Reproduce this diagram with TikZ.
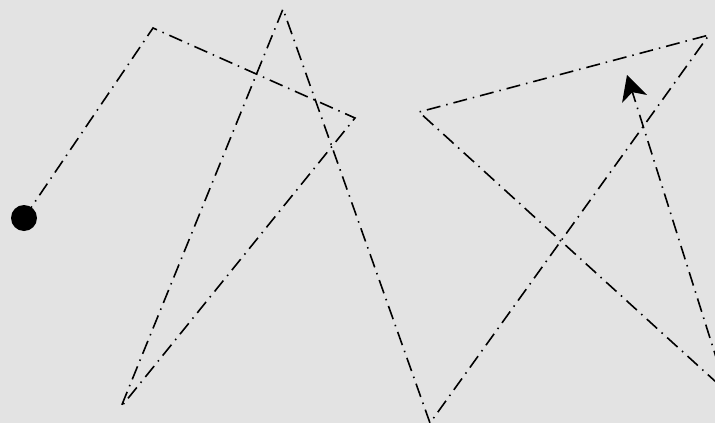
\documentclass[tikz,border=0pt]{standalone}
\usepackage{tikz}
\usetikzlibrary{arrows.meta}
\definecolor{scbg}{HTML}{E3E3E3}
\definecolor{scink}{HTML}{000000}
\tikzset{
  trail/.style  ={draw=scink, line width=1.6pt,
                  dash pattern=on 14pt off 6pt on 1.5pt off 6pt},
  origin/.style ={circle, fill=scink, minimum size=26pt, inner sep=0pt},
  headtip/.style={-{Stealth[length=25pt, width=26pt, inset=7pt]}},
}

\begin{document}
\begin{tikzpicture}[x=1pt,y=-1pt]
      \fill[scbg] (0,0) rectangle (715,423);
      \useasboundingbox (0,0) rectangle (715,423);
      \clip (0,0) rectangle (715,423);
      % corners of the trail
      \coordinate (c1) at (153,28);
      \coordinate (c2) at (355,118);
      \coordinate (c3) at (121,407);
      \coordinate (c4) at (283,9);
      \coordinate (c5) at (430,423);
      \coordinate (c6) at (709,35);
      \coordinate (c7) at (419,112);
      \coordinate (c8) at (727,392);
      \coordinate (tip) at (627,75);
      \node[origin] (start) at (24,218) {};
      \draw[trail,headtip] (start.center) -- (c1) -- (c2) -- (c3) -- (c4)
        -- (c5) -- (c6) -- (c7) -- (c8) -- (tip);
    \end{tikzpicture}
\end{document}
